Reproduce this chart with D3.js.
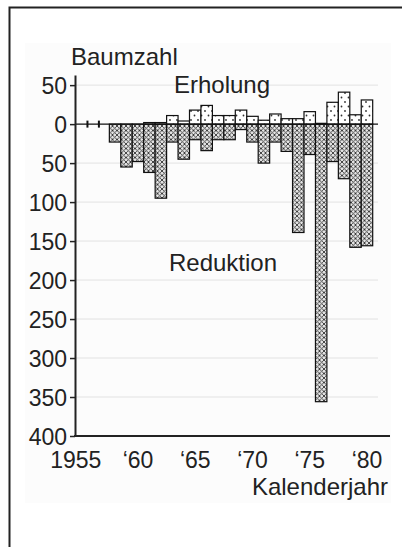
<!DOCTYPE html>
<html>
<head>
<meta charset="utf-8">
<script src="https://cdn.jsdelivr.net/npm/d3@7"></script>
<style>
  body { margin: 0; background: #fff; }
  svg { display: block; font-family: "Liberation Sans", Arial, sans-serif; }
  .tick text { font-size: 23px; fill: #222; }
  .label { font-size: 24px; fill: #222; }
</style>
</head>
<body>
<svg id="chart" width="402" height="547"></svg>
<script>
// DATA
const years     = [1956, 1957, 1958, 1959, 1960, 1961, 1962, 1963, 1964, 1965, 1966, 1967, 1968,
                   1969, 1970, 1971, 1972, 1973, 1974, 1975, 1976, 1977, 1978, 1979, 1980];
const erholung  = [0, 0, 0, 0, 0, 2, 2, 11, 4, 18, 24, 11, 11,
                   18, 10, 5, 13, 7, 7, 16, 1, 28, 41, 12, 31];
const reduktion = [0, 0, 23, 55, 48, 62, 95, 23, 45, 20, 34, 20, 20,
                   7, 23, 50, 23, 35, 139, 39, 356, 48, 70, 158, 156];
const xTickYears  = [1955, 1960, 1965, 1970, 1975, 1980];
const xTickLabels = ["1955", "\u201860", "\u201865", "\u201870", "\u201875", "\u201880"];
const yTicks = [50, 0, -50, -100, -150, -200, -250, -300, -350, -400];

const data = years.map((y, i) => ({ year: y, up: erholung[i], down: reduktion[i] }));

const svg = d3.select("#chart");

// frame (cropped box, only top and left visible)
svg.append("path")
    .attr("d", "M9.5,547 V7.5 H402")
    .attr("fill", "none")
    .attr("stroke", "#222")
    .attr("stroke-width", 2);

// faint panel
svg.append("rect")
    .attr("x", 25).attr("y", 43).attr("width", 366).attr("height", 460)
    .attr("fill", "#fcfcfc");

// patterns
const defs = svg.append("defs");
const hatch = defs.append("pattern")
    .attr("id", "hatch")
    .attr("patternUnits", "userSpaceOnUse")
    .attr("width", 4.5).attr("height", 4.5);
hatch.append("rect").attr("width", 4.5).attr("height", 4.5).attr("fill", "#e6e6e6");
hatch.append("path")
    .attr("d", "M0,0 L4.5,4.5 M4.5,0 L0,4.5")
    .attr("stroke", "#333").attr("stroke-width", 0.9);

const dots = defs.append("pattern")
    .attr("id", "dots")
    .attr("patternUnits", "userSpaceOnUse")
    .attr("width", 7).attr("height", 9);
dots.append("rect").attr("width", 7).attr("height", 9).attr("fill", "#fff");
dots.append("circle").attr("cx", 2).attr("cy", 3).attr("r", 0.9).attr("fill", "#333");
dots.append("circle").attr("cx", 5.5).attr("cy", 7.5).attr("r", 0.9).attr("fill", "#333");

// SCALES
const x = d3.scaleBand()
    .domain([1955].concat(years))
    .range([75, 372.7])
    .paddingInner(0)
    .paddingOuter(0);

const y = d3.scaleLinear()
    .domain([63, -400])
    .range([75, 436]);

// gridlines
svg.append("g")
    .selectAll("line")
    .data(yTicks.filter(d => d !== 0 && d !== -400))
    .enter()
    .append("line")
    .attr("x1", 76).attr("x2", 378)
    .attr("y1", d => y(d)).attr("y2", d => y(d))
    .attr("stroke", "#e2e2e2")
    .attr("stroke-width", 1);

// BARS
const withDown = data.filter(d => d.down > 0);
const withUp = data.filter(d => d.up > 0);

svg.append("g")
    .selectAll("rect")
    .data(withDown)
    .enter()
    .append("rect")
    .attr("x", d => x(d.year))
    .attr("y", y(0))
    .attr("width", x.bandwidth())
    .attr("height", d => y(-d.down) - y(0))
    .attr("fill", "url(#hatch)")
    .attr("stroke", "#111")
    .attr("stroke-width", 1.2);

svg.append("g")
    .selectAll("rect")
    .data(withUp)
    .enter()
    .append("rect")
    .attr("x", d => x(d.year))
    .attr("y", d => y(d.up))
    .attr("width", x.bandwidth())
    .attr("height", d => y(0) - y(d.up))
    .attr("fill", "url(#dots)")
    .attr("stroke", "#111")
    .attr("stroke-width", 1.2);

// zero line
svg.append("line")
    .attr("x1", 75).attr("x2", 378)
    .attr("y1", y(0)).attr("y2", y(0))
    .attr("stroke", "#111")
    .attr("stroke-width", 1.2);

// little marks for years with no change
svg.append("g")
    .selectAll("line")
    .data(data.filter(d => d.up === 0 && d.down === 0))
    .enter()
    .append("line")
    .attr("x1", d => x(d.year) + 1).attr("x2", d => x(d.year) + 1)
    .attr("y1", y(0) - 3.5).attr("y2", y(0) + 3.5)
    .attr("stroke", "#111")
    .attr("stroke-width", 2);

// AXES
const yAxis = svg.append("g")
    .attr("transform", "translate(75,0)")
    .call(d3.axisLeft(y)
        .tickValues(yTicks)
        .tickFormat(d => Math.abs(d))
        .tickSize(5)
        .tickSizeOuter(0));
yAxis.select(".domain").attr("stroke", "#222").attr("stroke-width", 2);
yAxis.selectAll(".tick line").attr("stroke", "#222").attr("stroke-width", 1.5);
yAxis.selectAll(".tick text").attr("x", -8).attr("dy", "0.36em");

// x axis line runs past the last bar
svg.append("line")
    .attr("x1", 74).attr("x2", 390)
    .attr("y1", y(-400)).attr("y2", y(-400))
    .attr("stroke", "#222")
    .attr("stroke-width", 2);

const xAxis = svg.append("g")
    .attr("transform", `translate(0,${y(-400)})`)
    .call(d3.axisBottom(x)
        .tickValues(xTickYears)
        .tickFormat((d, i) => xTickLabels[i])
        .tickSize(0));
xAxis.select(".domain").remove();
xAxis.selectAll(".tick text").attr("y", 32).attr("dy", "0");
// "1955" sits a little left of its band centre in the original
xAxis.selectAll(".tick").filter(d => d === 1955).select("text").attr("x", -5);

// LABELS
svg.append("text")
    .attr("class", "label")
    .attr("x", 71).attr("y", 65)
    .text("Baumzahl");

svg.append("text")
    .attr("class", "label")
    .attr("text-anchor", "middle")
    .attr("x", 222).attr("y", 93)
    .text("Erholung");

svg.append("text")
    .attr("class", "label")
    .attr("text-anchor", "middle")
    .attr("x", 223).attr("y", 271)
    .text("Reduktion");

svg.append("text")
    .attr("class", "label")
    .attr("text-anchor", "end")
    .attr("x", 388).attr("y", 495)
    .text("Kalenderjahr");
</script>
</body>
</html>
